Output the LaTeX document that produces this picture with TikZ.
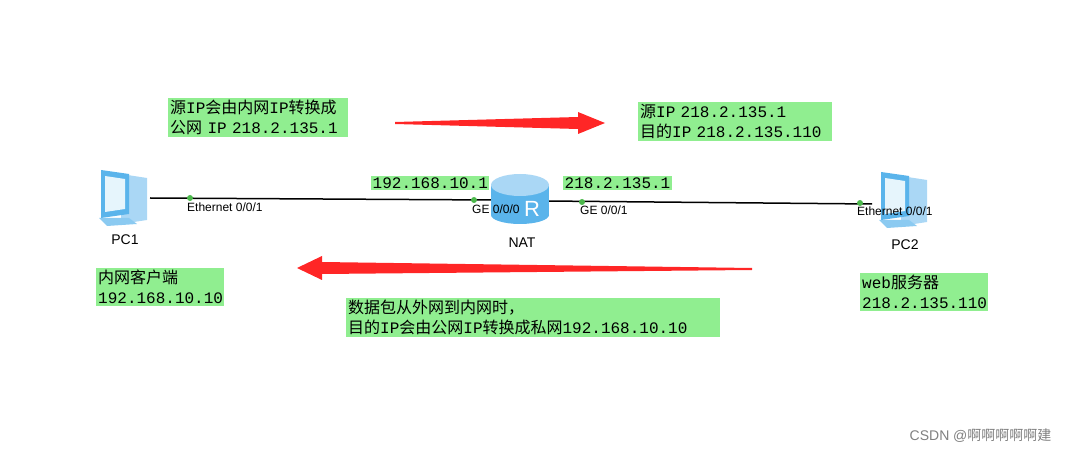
\documentclass[tikz,border=0pt]{standalone}
\usepackage{fontspec}
\setmainfont{Liberation Sans}
\setmonofont{Liberation Mono}
\newfontfamily\cjk{Noto Sans CJK SC}
\begin{document}
\begin{tikzpicture}[x=1pt,y=-1pt,
  gbox/.style={inner sep=2pt,align=left,font=\ttfamily\fontsize{16}{20}\selectfont,anchor=north west},
  lbl/.style={font=\fontsize{12}{14}\selectfont,inner sep=0pt},
  dot/.style={circle,fill=green!60!black!70!white,inner sep=0pt,minimum size=6pt},
  redarrow/.style={fill=red!85!white,draw=none}]
\useasboundingbox (0,0) rectangle (1068,454);
\definecolor{gfill}{RGB}{144,238,144}
\definecolor{pcA}{RGB}{90,180,235}
\definecolor{pcB}{RGB}{170,215,245}
\definecolor{pcC}{RGB}{230,245,252}
\tikzset{gbox/.append style={fill=gfill}}
\coordinate (pc1) at (125,200);
\coordinate (pc2) at (905,202);
\coordinate (nat) at (520,195);
\draw[black,line width=1.5pt] (150,198) -- (495,200);
\draw[black,line width=1.5pt] (545,201) -- (872,204);
\foreach \p in {pc1,pc2}{
  \begin{scope}[shift={(\p)}]
    \fill[pcB] (-4,-26) -- (22,-22) -- (22,20) -- (-4,24) -- cycle;
    \fill[pcA!70!white] (-26,18) -- (4,18) -- (12,24) -- (-18,26) -- cycle;
    \fill[pcA] (-24,-30) -- (4,-26) -- (4,14) -- (-24,18) -- cycle;
    \fill[pcC] (-20,-24) -- (0,-21) -- (0,9) -- (-20,12) -- cycle;
  \end{scope}}
\begin{scope}[shift={(nat)}]
  \fill[pcA] (-29,-10) rectangle (29,20);
  \fill[pcA] (0,20) ellipse (29 and 9);
  \fill[pcB] (0,-10) ellipse (29 and 11);
  \node[font=\fontsize{22}{22}\selectfont,text=white] at (12,14) {R};
\end{scope}
\node[lbl,font=\fontsize{14}{16}\selectfont] (l1) at (125,240) {PC1};
\node[lbl,font=\fontsize{14}{16}\selectfont] (l2) at (522,243) {NAT};
\node[lbl,font=\fontsize{14}{16}\selectfont] (l3) at (905,245) {PC2};
\node[dot] (d1) at (190,198) {};
\node[dot] (d2) at (474,200) {};
\node[dot] (d3) at (582,202) {};
\node[dot] (d4) at (860,203) {};
\node[lbl,anchor=west] (e1) at (187,207) {Ethernet 0/0/1};
\node[lbl,anchor=west] (e2) at (472,209) {GE 0/0/0};
\node[lbl,anchor=west] (e3) at (580,210) {GE 0/0/1};
\node[lbl,anchor=west] (e4) at (857,211) {Ethernet 0/0/1};
\node[gbox,text width=176pt] (b1) at (168,98) {{\cjk 源}IP{\cjk 会由内网}IP{\cjk 转换成}\\{\cjk 公网} IP 218.2.135.1};
\node[gbox,text width=190pt] (b2) at (638,102) {{\cjk 源}IP 218.2.135.1\\{\cjk 目的}IP 218.2.135.110};
\node[gbox,inner sep=1.5pt] (b3) at (371,176) {192.168.10.1};
\node[gbox,inner sep=1.5pt] (b4) at (563,176) {218.2.135.1};
\node[gbox,text width=124pt] (b5) at (96,268) {{\cjk 内网客户端}\\192.168.10.10};
\node[gbox,text width=370pt] (b6) at (346,298) {{\cjk 数据包从外网到内网时，}\\{\cjk 目的}IP{\cjk 会由公网}IP{\cjk 转换成私网}192.168.10.10};
\node[gbox,text width=124pt] (b7) at (860,273) {web{\cjk 服务器}\\218.2.135.110};
\fill[redarrow] (395,122) -- (578,117) -- (578,112) -- (605,123) -- (578,134) -- (578,129) -- (395,124) -- cycle;
\fill[redarrow] (752,268) -- (322,262) -- (322,256) -- (297,268) -- (322,280) -- (322,274) -- (752,270) -- cycle;
\node[font=\fontsize{14}{16}\selectfont,text=gray,anchor=east] (wm) at (1055,436) {CSDN @{\cjk 啊啊啊啊啊建}};
\end{tikzpicture}
\end{document}
